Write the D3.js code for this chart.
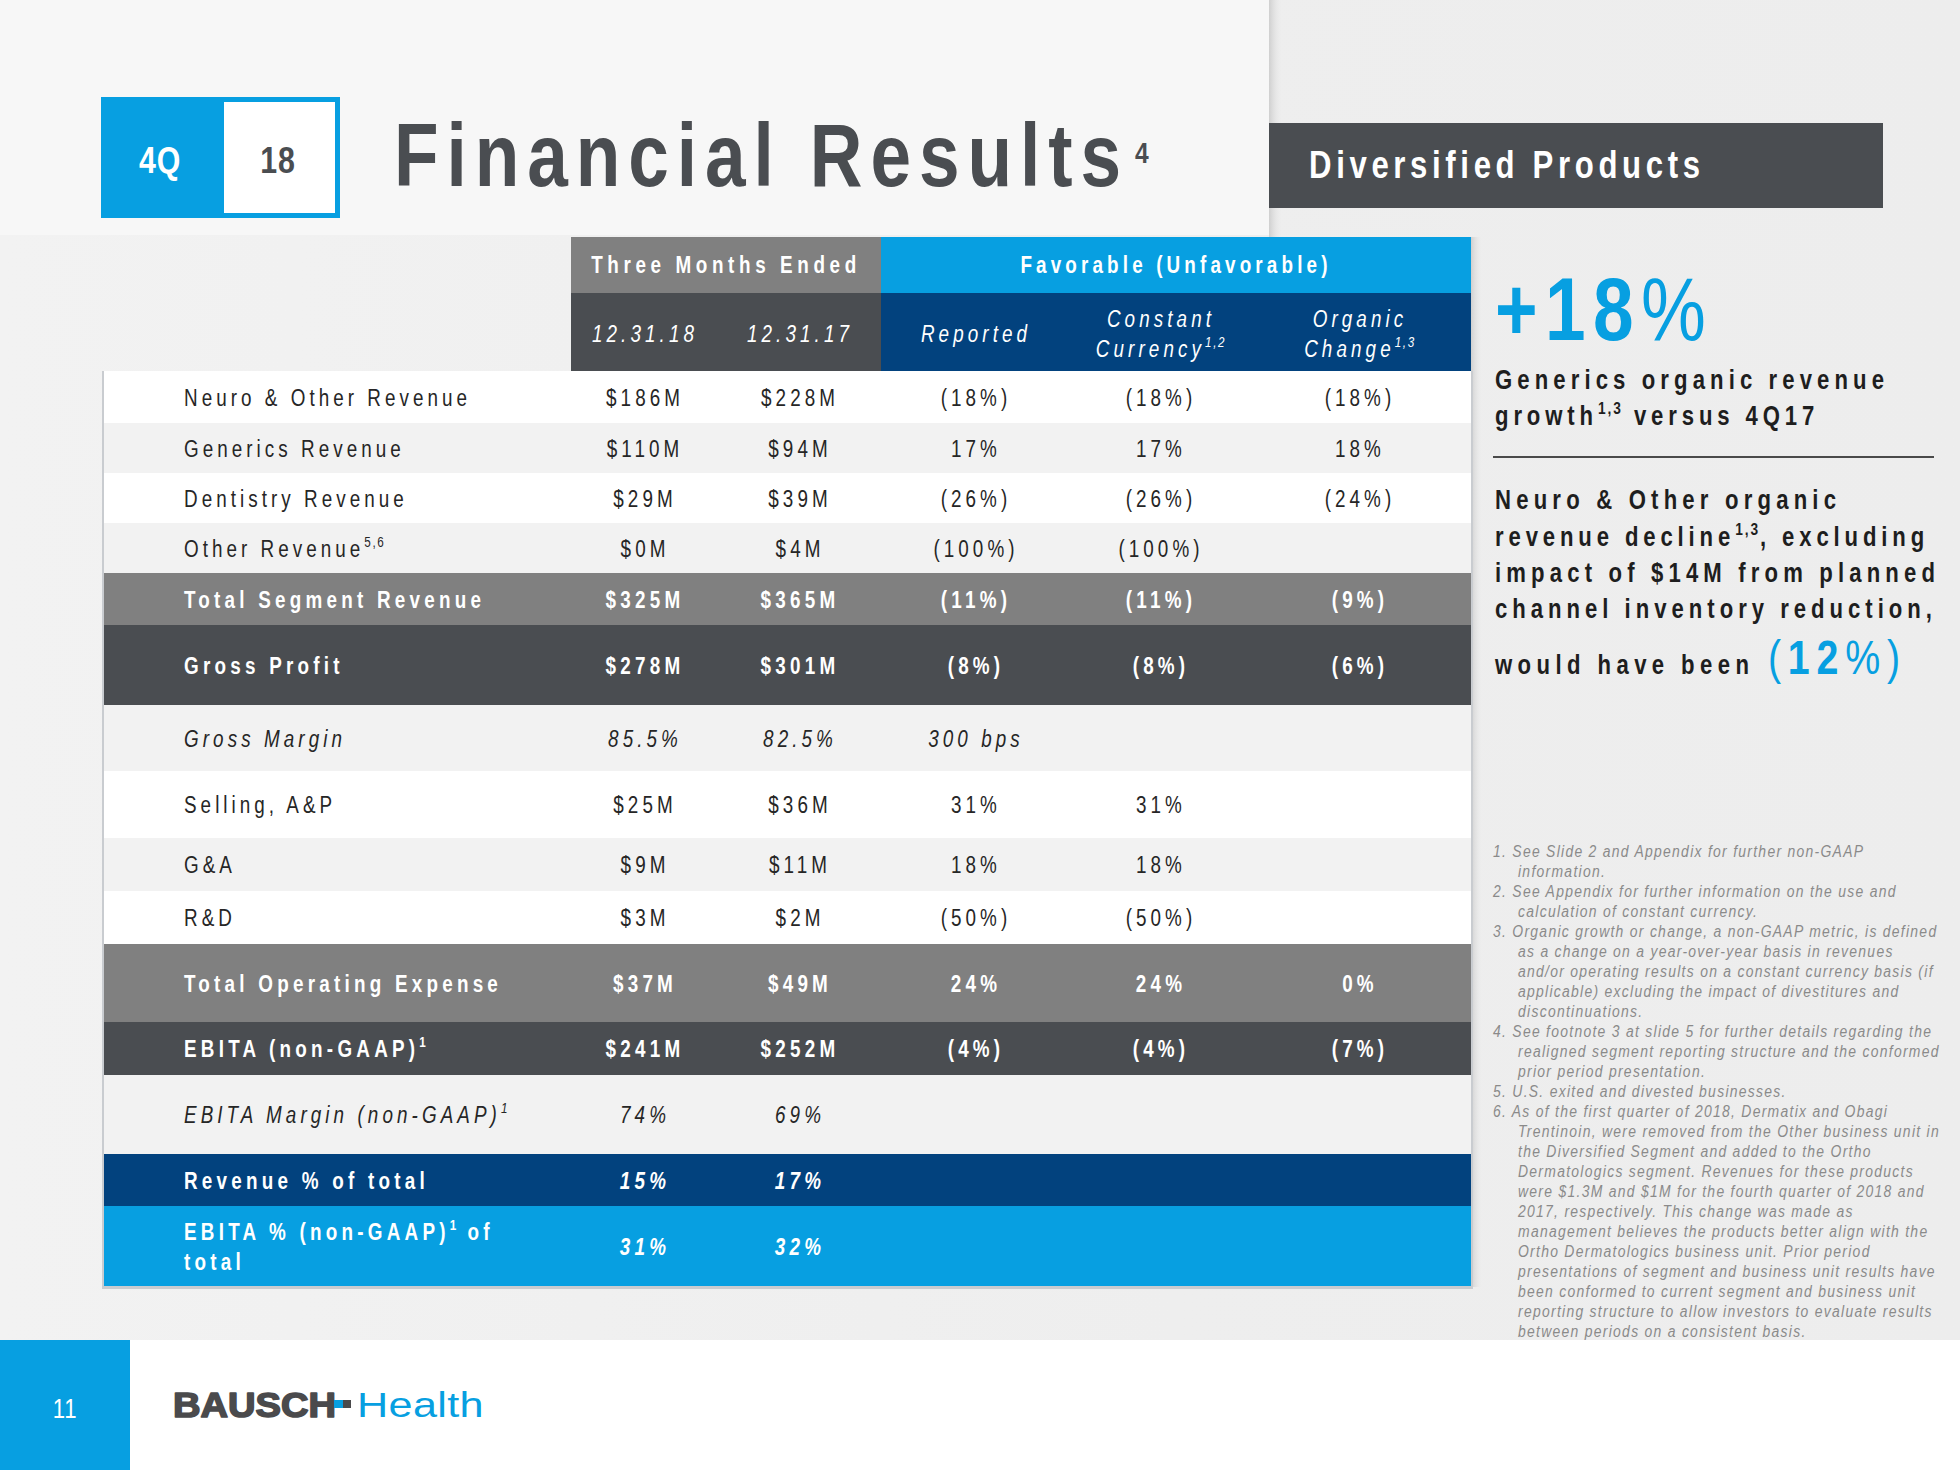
<!DOCTYPE html>
<html><head><meta charset="utf-8">
<script src="https://cdn.jsdelivr.net/npm/d3@7"></script>
<style>html,body{margin:0;padding:0;background:#fff;overflow:hidden} svg{display:block}</style>
</head><body>
<script>
// ---------------- DATA ----------------
const rowLabels = ["Neuro & Other Revenue","Generics Revenue","Dentistry Revenue","Other Revenue","Total Segment Revenue","Gross Profit","Gross Margin","Selling, A&P","G&A","R&D","Total Operating Expense","EBITA (non-GAAP)","EBITA Margin (non-GAAP)","Revenue % of total","EBITA % (non-GAAP)"];
const labelSup = ["","","","5,6","","","","","","","","1","1","","1"];
const labelTail = ["","","","","","","","","","","","","",""," of|total"];
const q4_2018 = ["$186M","$110M","$29M","$0M","$325M","$278M","85.5%","$25M","$9M","$3M","$37M","$241M","74%","15%","31%"];
const q4_2017 = ["$228M","$94M","$39M","$4M","$365M","$301M","82.5%","$36M","$11M","$2M","$49M","$252M","69%","17%","32%"];
const reported = ["(18%)","17%","(26%)","(100%)","(11%)","(8%)","300 bps","31%","18%","(50%)","24%","(4%)","","",""];
const constantCurrency = ["(18%)","17%","(26%)","(100%)","(11%)","(8%)","","31%","18%","(50%)","24%","(4%)","","",""];
const organicChange = ["(18%)","18%","(24%)","","(9%)","(6%)","","","","","0%","(7%)","","",""];
const columnKeys = ["c18","c17","rep","cc","org"];
const columnHeaders = [["12.31.18"],["12.31.17"],["Reported"],["Constant","Currency|1,2"],["Organic","Change|1,3"]];
const groupHeaders = ["Three Months Ended","Favorable (Unfavorable)"];
const headline = ["+18", "%"];
const headlineText = ["Generics organic revenue","growth|1,3| versus 4Q17"];
const noteText = ["Neuro & Other organic","revenue decline|1,3|, excluding","impact of $14M from planned","channel inventory reduction,","would have been"];
const noteValue = ["(", "12", "%)"];
const footnotes = [
 ["1. See Slide 2 and Appendix for further non-GAAP","information."],
 ["2. See Appendix for further information on the use and","calculation of constant currency."],
 ["3. Organic growth or change, a non-GAAP metric, is defined","as a change on a year-over-year basis in revenues","and/or operating results on a constant currency basis (if","applicable) excluding the impact of divestitures and","discontinuations."],
 ["4. See footnote 3 at slide 5 for further details regarding the","realigned segment reporting structure and the conformed","prior period presentation."],
 ["5. U.S. exited and divested businesses."],
 ["6. As of the first quarter of 2018, Dermatix and Obagi","Trentinoin, were removed from the Other business unit in","the Diversified  Segment and added to the Ortho","Dermatologics segment. Revenues for these products","were $1.3M and $1M for the fourth quarter of 2018 and","2017, respectively. This change was made as","management believes the products better align with the","Ortho Dermatologics business unit. Prior period","presentations of segment and business unit results have","been conformed to current segment and business unit","reporting structure to allow investors to evaluate results","between periods on a consistent basis."]
];
const quarterLabel = ["4Q","18"];
const titleText = "Financial Results";
const titleSup = "4";
const segmentTitle = "Diversified Products";
const pageNumber = "11";
const logoWords = ["BAUSCH","Health"];

// ---------------- STYLE / LAYOUT ----------------
const BLUE = "#079fe1", NAVY = "#02427e", DARK = "#4a4d51", GRAY = "#808080", ALT = "#f2f2f2";
const FONT = "'Liberation Sans', Arial, Helvetica, sans-serif";
const SX = 0.82; // narrow face
const rowKinds = ["plain","alt","plain","alt","total","dark","altItal","plain","alt","plain","total","dark","altItal","navy","blue"];
const rowEdges = [371,423,473,523,573,625,705,771,838,891,944,1022,1075,1154,1206,1286];
const colCenters = [645,800,976,1161,1360];

const W = 1960, H = 1470;
const svg = d3.select("body").append("svg").attr("width", W).attr("height", H);

function baseText(parent, x, y, o) {
  const sx = o.sx == null ? SX : o.sx;
  return parent.append("text")
    .attr("transform", `translate(${x},${y}) scale(${sx},1)`)
    .style("font-family", FONT)
    .style("font-size", o.size + "px")
    .style("font-weight", o.weight || 400)
    .style("font-style", o.italic ? "italic" : "normal")
    .style("letter-spacing", (o.ls || 0) + "px")
    .attr("fill", o.fill || "#222")
    .attr("text-anchor", o.anchor || "start");
}
function rich(parent, x, y, str, o) {
  const t = baseText(parent, x, y, o);
  const segs = str.split("|");
  const sh = o.size * 0.42;
  segs.forEach((s, i) => {
    if (s === "") return;
    const sup = i % 2 === 1;
    const sp = t.append("tspan").text(s);
    if (sup) sp.attr("dy", -sh).style("font-size", (o.size * 0.62) + "px").style("letter-spacing", ((o.ls||0)*0.4) + "px");
    else if (i > 0) sp.attr("dy", sh);
  });
  return t;
}
function mixed(parent, x, y, segs, weights, o) {
  const t = baseText(parent, x, y, o);
  segs.forEach((s, i) => t.append("tspan").text(s).style("font-weight", weights[i]));
  return t;
}
function fitLs(str, o, target) {
  const sx = o.sx == null ? SX : o.sx;
  const t = rich(svg, -5000, -5000, str, Object.assign({}, o, {ls: 0}));
  const w = t.node().getComputedTextLength();
  const n = str.replace(/\|/g, "").length;
  t.remove();
  return (target / sx - w) / Math.max(1, n - 1);
}
function fitMixed(segs, weights, o, target) {
  const sx = o.sx == null ? SX : o.sx;
  const t = mixed(svg, -5000, -5000, segs, weights, Object.assign({}, o, {ls: 0}));
  const w = t.node().getComputedTextLength();
  const n = segs.join("").length;
  t.remove();
  return (target / sx - w) / Math.max(1, n - 1);
}

// ---------------- BACKGROUND ----------------
const defs = svg.append("defs");
const bg = defs.append("linearGradient").attr("id","bg").attr("x1",0).attr("x2",1).attr("y1",0).attr("y2",0);
bg.append("stop").attr("offset","0%").attr("stop-color","#f2f2f2");
bg.append("stop").attr("offset","60%").attr("stop-color","#eeeeee");
bg.append("stop").attr("offset","100%").attr("stop-color","#ededed");
const sh = defs.append("linearGradient").attr("id","sh").attr("x1",0).attr("x2",1).attr("y1",0).attr("y2",0);
sh.append("stop").attr("offset","0%").attr("stop-color","#cfcfcf");
sh.append("stop").attr("offset","100%").attr("stop-color","#efefef").attr("stop-opacity",0);
svg.append("rect").attr("width",W).attr("height",H).attr("fill","url(#bg)");
svg.append("rect").attr("x",0).attr("y",0).attr("width",1269).attr("height",235).attr("fill","#f7f7f7");
svg.append("rect").attr("x",1269).attr("y",0).attr("width",14).attr("height",240).attr("fill","url(#sh)");
svg.append("rect").attr("x",1471).attr("y",237).attr("width",12).attr("height",1050).attr("fill","url(#sh)");
svg.append("rect").attr("x",130).attr("y",1340).attr("width",W-130).attr("height",130).attr("fill","#ffffff");
svg.append("rect").attr("x",0).attr("y",1340).attr("width",130).attr("height",130).attr("fill",BLUE);

// ---------------- TITLE ----------------
svg.append("rect").attr("x",101).attr("y",97).attr("width",239).attr("height",121).attr("fill",BLUE);
svg.append("rect").attr("x",224).attr("y",102).attr("width",111).attr("height",111).attr("fill","#fff");
rich(svg, 160, 173, quarterLabel[0], {size:37, weight:700, fill:"#fff", anchor:"middle", ls:1});
rich(svg, 278, 173, quarterLabel[1], {size:37, weight:700, fill:DARK, anchor:"middle", ls:1});
const tO = {size:89, weight:700, fill:DARK};
tO.ls = fitLs(titleText, tO, 727);
rich(svg, 394, 186, titleText, tO);
rich(svg, 1135, 163, titleSup, {size:30, weight:700, fill:DARK});

svg.append("rect").attr("x",1269).attr("y",123).attr("width",614).attr("height",85).attr("fill",DARK);
const dO = {size:38, weight:700, fill:"#fff"};
dO.ls = fitLs(segmentTitle, dO, 391);
rich(svg, 1309, 178, segmentTitle, dO);

// ---------------- TABLE ----------------
const x = d3.scaleOrdinal().domain(columnKeys).range(colCenters);
const rowIdx = d3.range(rowLabels.length);
const yTop = d3.scaleOrdinal().domain(rowIdx).range(rowEdges.slice(0, -1));
const yBot = d3.scaleOrdinal().domain(rowIdx).range(rowEdges.slice(1));
const yMid = i => (yTop(i) + yBot(i)) / 2;

// headers
svg.append("rect").attr("x",571).attr("y",237).attr("width",310).attr("height",56).attr("fill",GRAY);
svg.append("rect").attr("x",881).attr("y",237).attr("width",590).attr("height",56).attr("fill",BLUE);
svg.append("rect").attr("x",571).attr("y",293).attr("width",310).attr("height",79).attr("fill",DARK);
svg.append("rect").attr("x",881).attr("y",293).attr("width",590).attr("height",79).attr("fill",NAVY);
const hO = {size:23, weight:700, fill:"#fff", anchor:"middle"};
hO.ls = fitLs(groupHeaders[0], hO, 265);
rich(svg, 726, 273, groupHeaders[0], hO);
rich(svg, 1176, 273, groupHeaders[1], Object.assign({}, hO, {ls: fitLs(groupHeaders[1], hO, 307)}));
const hiO = {size:23, italic:true, fill:"#fff", anchor:"middle"};
hiO.ls = fitLs("12.31.18", hiO, 102);
columnHeaders.forEach((lines, j) => {
  const cx = x(columnKeys[j]);
  if (lines.length === 1) rich(svg, cx, 342, lines[0], hiO);
  else lines.forEach((l, k) => rich(svg, cx, 327 + k * 30, l, hiO));
});

// body rows
const fills = {plain:"#ffffff", alt:ALT, altItal:ALT, total:GRAY, dark:DARK, navy:NAVY, blue:BLUE};
svg.append("rect").attr("x",102).attr("y",371).attr("width",1371).attr("height",918).attr("fill","#c9ccd0");
svg.selectAll("rect.row").data(rowIdx).join("rect").attr("class","row")
  .attr("x",104).attr("y", i => yTop(i)).attr("width",1367).attr("height", i => yBot(i) - yTop(i))
  .attr("fill", i => fills[rowKinds[i]]);

const lsBody = fitLs(rowLabels[0], {size:23}, 283);
const lsBold = fitLs(rowLabels[4], {size:23, weight:700}, 297);
const lsItal = fitLs(rowLabels[6], {size:23, italic:true}, 158);
function styleFor(kind, isLabel) {
  if (kind === "plain" || kind === "alt") return {size:23, fill:"#262626", ls: lsBody};
  if (kind === "altItal") return {size:23, fill:"#262626", italic:true, ls: lsItal};
  if (kind === "total" || kind === "dark") return {size:23, fill:"#fff", weight:700, ls: lsBold};
  return {size:23, fill:"#fff", weight:700, italic: !isLabel, ls: lsBold};
}
const colData = [q4_2018, q4_2017, reported, constantCurrency, organicChange];
rowIdx.forEach(i => {
  const kind = rowKinds[i];
  const lo = styleFor(kind, true);
  const base = yMid(i) + 8.5;
  let lab = rowLabels[i] + (labelSup[i] ? "|" + labelSup[i] : "");
  if (labelTail[i]) {
    const parts = labelTail[i].split("|");
    rich(svg, 184, yMid(i) - 6, lab + "|" + parts[0], lo);
    rich(svg, 184, yMid(i) + 24, parts[1], lo);
  } else {
    rich(svg, 184, base, lab, lo);
  }
  const vo = Object.assign(styleFor(kind, false), {anchor:"middle"});
  colData.forEach((arr, j) => {
    if (arr[i]) rich(svg, x(columnKeys[j]), base, arr[i], vo);
  });
});

// ---------------- RIGHT PANEL ----------------
const bO = {size:89, fill:BLUE};
const bW = [700, 400];
bO.ls = fitMixed(headline, bW, bO, 211);
mixed(svg, 1495, 340, headline, bW, bO);
const gO = {size:27, weight:700, fill:"#1e1e1e"};
const gW = [389, 328];
headlineText.forEach((l, k) => rich(svg, 1495, 389 + k * 36, l, Object.assign({}, gO, {ls: fitLs(l, gO, gW[k])})));
svg.append("line").attr("x1",1493).attr("x2",1934).attr("y1",457).attr("y2",457).attr("stroke","#4a4a4a").attr("stroke-width",2);
const nW = [341, 438, 440, 437, 254];
const nY = [509, 546, 582, 618, 674];
noteText.forEach((l, k) => rich(svg, 1495, nY[k], l, Object.assign({}, gO, {ls: fitLs(l, gO, nW[k])})));
const vO = {size:48, fill:BLUE};
const vW = [400, 700, 400];
vO.ls = fitMixed(noteValue, vW, vO, 132);
mixed(svg, 1768, 674, noteValue, vW, vO);

// footnotes
const fO = {size:17, italic:true, fill:"#8a8a8a"};
fO.ls = fitLs(footnotes[0][0], fO, 370);
let ln = 0;
footnotes.forEach(note => {
  note.forEach((l, k) => {
    rich(svg, k === 0 ? 1493 : 1518, 857 + ln * 20, l, fO);
    ln++;
  });
});

// ---------------- FOOTER ----------------
rich(svg, 65, 1418, pageNumber, {size:27, fill:"#fff", anchor:"middle", ls:1});
const lO = {size:35, weight:700, fill:"#4a4a4c", sx:1.09, ls:0};
baseText(svg, 173, 1417, lO).text(logoWords[0]).attr("stroke","#4a4a4c").attr("stroke-width",1.6).attr("stroke-linejoin","round");
svg.append("rect").attr("x",342).attr("y",1400).attr("width",9).attr("height",8).attr("fill","#4a4a4c");
svg.append("rect").attr("x",334).attr("y",1400).attr("width",9).attr("height",8).attr("fill",BLUE);
baseText(svg, 357, 1417, {size:36, fill:BLUE, sx:1.2, ls:0.3}).text(logoWords[1]);
</script>
</body></html>
